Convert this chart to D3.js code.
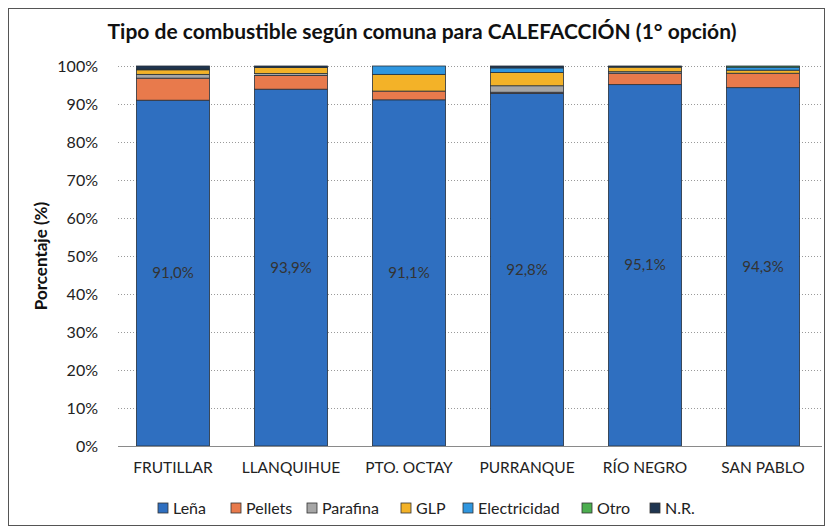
<!DOCTYPE html>
<html><head><meta charset="utf-8">
<script src="https://cdn.jsdelivr.net/npm/d3@7"></script>
<style>
html,body{margin:0;padding:0;background:#fff;}
svg{display:block;font-family:Lato,"Open Sans",sans-serif;}
</style></head>
<body><svg id="c" width="826" height="527"></svg>
<script>
const categories = ["FRUTILLAR","LLANQUIHUE","PTO. OCTAY","PURRANQUE","RÍO NEGRO","SAN PABLO"];
const seriesNames = ["Leña","Pellets","Parafina","GLP","Electricidad","Otro","N.R."];
const lena         = [91.0, 93.9, 91.1, 92.8, 95.1, 94.3];
const pellets      = [5.8, 3.6, 2.3, 0.3, 3.0, 3.8];
const parafina     = [1.0, 0.5, 0.0, 1.7, 0.4, 0.0];
const glp          = [1.2, 1.6, 4.4, 3.5, 1.2, 0.8];
const electricidad = [0.2, 0.0, 2.2, 1.2, 0.0, 0.8];
const otro         = [0.0, 0.0, 0.0, 0.0, 0.0, 0.3];
const nr           = [0.8, 0.4, 0.0, 0.5, 0.3, 0.0];
const yTicks = [0,10,20,30,40,50,60,70,80,90,100];
const labels = ["91,0%","93,9%","91,1%","92,8%","95,1%","94,3%"];
const colors = ["#2f6fc0","#e87a4c","#a6a6a6","#f3b228","#2f96df","#4cae4f","#1f3550"];

const seriesVals = [lena,pellets,parafina,glp,electricidad,otro,nr];
const table = categories.map((c,i)=>{const o={cat:c}; seriesNames.forEach((s,j)=>o[s]=seriesVals[j][i]); return o;});

const svg = d3.select("#c");
svg.append("rect").attr("x",8.5).attr("y",8.5).attr("width",816).attr("height",517)
  .attr("fill","#fff").attr("stroke","#555").attr("stroke-width",1);

const x = d3.scaleBand().domain(categories).range([114,822]).paddingInner(0.38).paddingOuter(0.19);
const y = d3.scaleLinear().domain([0,100]).range([446,66]);

// grid
svg.append("g").selectAll("line").data(yTicks.filter(t=>t>0)).join("line")
  .attr("x1",118).attr("x2",822).attr("y1",d=>y(d)+0.5).attr("y2",d=>y(d)+0.5)
  .attr("stroke","#9a9a9a").attr("stroke-dasharray","1,2").attr("stroke-width",1);

// y axis labels
const ya = svg.append("g").attr("transform","translate(104,0)")
  .call(d3.axisLeft(y).tickValues(yTicks).tickFormat(d=>d+"%").tickSize(0).tickPadding(6));
ya.select(".domain").remove();
ya.selectAll("text").attr("font-size",16).attr("fill","#222").attr("font-family","Lato,sans-serif");

// stacked bars
const stack = d3.stack().keys(seriesNames)(table);
svg.append("g").selectAll("g").data(stack).join("g")
  .attr("fill",(d,i)=>colors[i])
  .selectAll("rect").data(d=>d).join("rect")
  .attr("x",d=>x(d.data.cat)).attr("width",x.bandwidth())
  .attr("y",d=>y(d[1])).attr("height",d=>Math.max(0,y(d[0])-y(d[1])))
  .attr("stroke",d=>(d[1]-d[0])>0?"#26303a":"none").attr("stroke-width",0.8);

// baseline
svg.append("line").attr("x1",118).attr("x2",822).attr("y1",446.5).attr("y2",446.5)
  .attr("stroke","#8a8a8a").attr("stroke-width",1);

// x axis labels
const xa = svg.append("g").attr("transform","translate(0,446)")
  .call(d3.axisBottom(x).tickSize(0).tickPadding(16));
xa.select(".domain").remove();
xa.selectAll("text").attr("font-size",15.5).attr("fill","#222").attr("font-family","Lato,sans-serif");

// value labels
svg.append("g").selectAll("text").data(table).join("text")
  .attr("x",d=>x(d.cat)+x.bandwidth()/2).attr("y",d=>y(d["Leña"]/2)+5)
  .attr("text-anchor","middle").attr("font-size",15).attr("fill","#333")
  .text((d,i)=>labels[i]);

// title
svg.append("text").attr("x",422).attr("y",39).attr("text-anchor","middle")
  .attr("font-size",21).attr("font-weight","bold").attr("fill","#111")
  .text("Tipo de combustible según comuna para CALEFACCIÓN (1° opción)");

// y title
svg.append("text").attr("transform","translate(47,256) rotate(-90)").attr("text-anchor","middle")
  .attr("font-size",17).attr("font-weight","bold").attr("fill","#111").text("Porcentaje (%)");

// legend
const legW = [73,76,94,62,119,68,50];
let lx = 158;
const leg = svg.append("g");
seriesNames.forEach((s,i)=>{
  const g = leg.append("g").attr("transform",`translate(${lx},503)`);
  g.append("rect").attr("width",10).attr("height",10).attr("fill",colors[i]).attr("stroke","#333").attr("stroke-width",0.8);
  g.append("text").attr("x",15).attr("y",10.5).attr("font-size",16).attr("fill","#222").text(s);
  lx += legW[i];
});
</script></body></html>
